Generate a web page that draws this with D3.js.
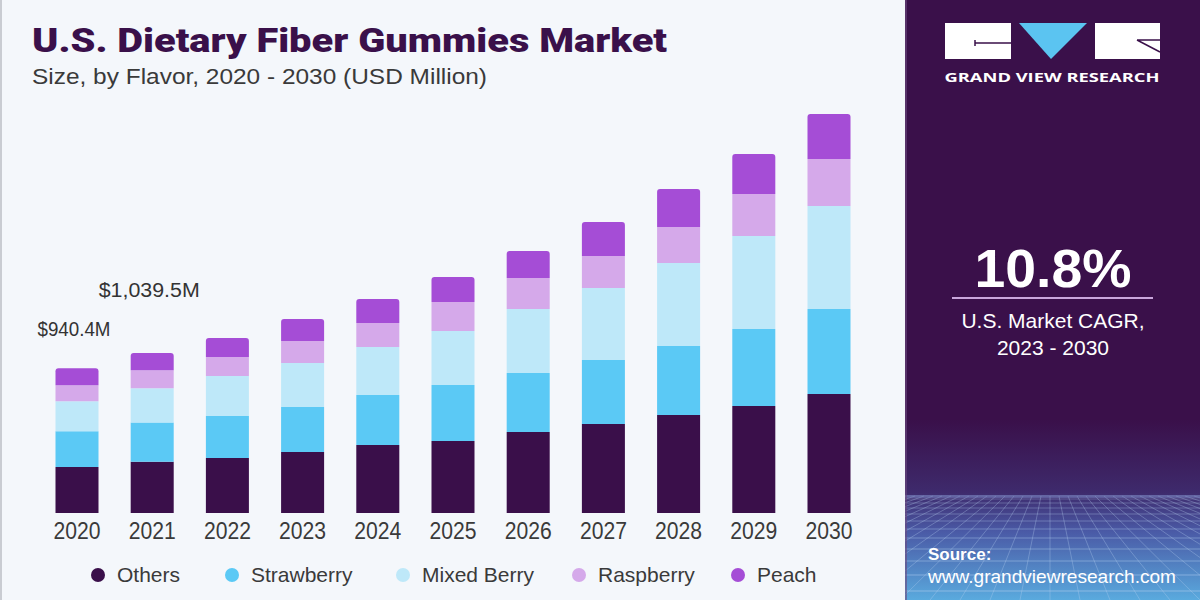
<!DOCTYPE html>
<html>
<head>
<meta charset="utf-8">
<script src="https://cdn.jsdelivr.net/npm/d3@7"></script>
<style>
  body { margin: 0; background: #f4f7fb; }
  svg { display: block; }
</style>
</head>
<body>
<div class="chart"></div>
<script>
// chart data (USD million)
var years = ["2020", "2021", "2022", "2023", "2024", "2025", "2026", "2027", "2028", "2029", "2030"];
var flavors = ["Others", "Strawberry", "Mixed Berry", "Raspberry", "Peach"];
var others = [298.5, 333.5, 357.5, 396.5, 442, 468, 526.5, 578.5, 637, 695.5, 773.5];
var strawberry = [233.6, 255, 273, 292.5, 325, 364, 383.5, 416, 448.5, 500.5, 552.5];
var mixedBerry = [195.0, 222.5, 260, 286, 312, 351, 416, 468, 539.5, 604.5, 669.5];
var raspberry = [103.9, 117.5, 123.5, 143, 156, 188.5, 201.5, 208, 234, 273, 305.5];
var peach = [109.4, 111, 123.5, 143, 156, 162.5, 175.5, 221, 247, 260, 292.5];
var labelYears = ["2020", "2021"];
var labelTexts = ["$940.4M", "$1,039.5M"];
var cagr = "10.8%";

var colors = ["#3a0f4a", "#5bc9f5", "#bee8f9", "#d5a9ea", "#a54dd6"];

// declaring sizes
var svgx = 1200;
var svgy = 600;
var panelx = 905;
var baseline = 513;

var svg = d3.select(".chart")
    .append("svg")
    .attr("width", svgx)
    .attr("height", svgy);

// backgrounds
svg.append("rect").attr("width", panelx).attr("height", svgy).attr("fill", "#f4f7fb");
svg.append("rect").attr("width", 2).attr("height", svgy).attr("fill", "#c9ccd2");

var defs = svg.append("defs");
var grad = defs.append("linearGradient")
    .attr("id", "floor").attr("x1", 0).attr("y1", 0).attr("x2", 0).attr("y2", 1);
grad.append("stop").attr("offset", "0%").attr("stop-color", "#3a104a");
grad.append("stop").attr("offset", "40%").attr("stop-color", "#3e2a6c");
grad.append("stop").attr("offset", "62%").attr("stop-color", "#4a5aa6");
grad.append("stop").attr("offset", "100%").attr("stop-color", "#5aaade");
defs.append("clipPath").attr("id", "panelclip")
    .append("rect").attr("x", panelx).attr("y", 0).attr("width", svgx - panelx).attr("height", svgy);

var panel = svg.append("g").attr("clip-path", "url(#panelclip)");
panel.append("rect").attr("x", panelx).attr("width", svgx - panelx).attr("height", svgy).attr("fill", "#3a104a");
panel.append("rect").attr("x", panelx).attr("y", 420).attr("width", svgx - panelx).attr("height", 180).attr("fill", "url(#floor)");

// perspective grid on the floor
var floor = panel.append("g").attr("stroke", "#b9d3f2").attr("stroke-width", 0.8).attr("fill", "none");
var horizon = 496;
var rows = [0, 3, 7, 12, 18, 25, 33, 42, 53, 65, 79, 95, 110];
rows.forEach(function(r) {
    floor.append("line")
        .attr("x1", panelx).attr("x2", svgx)
        .attr("y1", horizon + r).attr("y2", horizon + r)
        .attr("opacity", 0.35 + r / 300);
});
d3.range(-40, 41).forEach(function(k) {
    var vx = 1050;
    floor.append("line")
        .attr("x1", vx + k * 9).attr("y1", horizon)
        .attr("x2", vx + k * 30).attr("y2", svgy)
        .attr("opacity", 0.4);
});
panel.append("rect").attr("x", panelx).attr("y", horizon - 1).attr("width", svgx - panelx).attr("height", 3)
    .attr("fill", "#7a86c4").attr("opacity", 0.5);
svg.append("rect").attr("x", panelx).attr("width", 2).attr("height", svgy).attr("fill", "#6b4a7e").attr("opacity", 0.6);

// title
svg.append("text")
    .attr("x", 32).attr("y", 52)
    .attr("textLength", 635).attr("lengthAdjust", "spacingAndGlyphs")
    .style("font-family", "Roboto, 'Liberation Sans', sans-serif")
    .style("font-weight", 900).style("font-size", "34px")
    .attr("fill", "#3a104a")
    .text("U.S. Dietary Fiber Gummies Market");

svg.append("text")
    .attr("x", 32).attr("y", 84)
    .attr("textLength", 455).attr("lengthAdjust", "spacingAndGlyphs")
    .style("font-family", "'Liberation Sans', sans-serif")
    .style("font-size", "22px")
    .attr("fill", "#3a3a3a")
    .text("Size, by Flavor, 2020 - 2030 (USD Million)");

// scales
var xscale = d3.scaleBand().domain(years).range([39.4, 866.6]).paddingInner(0.428).paddingOuter(0.214);
var yscale = d3.scaleLinear().domain([0, 2600]).range([baseline, 113]);

var table = years.map(function(yr, i) {
    return {year: yr, "Others": others[i], "Strawberry": strawberry[i], "Mixed Berry": mixedBerry[i],
        "Raspberry": raspberry[i], "Peach": peach[i]};
});
var stacked = d3.stack().keys(flavors)(table);

// rounded top corners for the top segment
function topRounded(x, y, w, h, r) {
    return "M" + x + "," + (y + h) + "V" + (y + r) + "Q" + x + "," + y + " " + (x + r) + "," + y +
        "H" + (x + w - r) + "Q" + (x + w) + "," + y + " " + (x + w) + "," + (y + r) + "V" + (y + h) + "Z";
}

var bars = svg.append("g");
stacked.forEach(function(layer, li) {
    bars.append("g")
        .attr("fill", colors[li])
        .selectAll("path")
        .data(layer)
        .enter()
        .append("path")
        .attr("d", function(d) {
            var x0 = xscale(d.data.year);
            var y0 = yscale(d[1]);
            var h = yscale(d[0]) - yscale(d[1]);
            return topRounded(x0, y0, xscale.bandwidth(), h, li === flavors.length - 1 ? 3 : 0);
        });
});

// year axis
var xaxis = d3.axisBottom(xscale).tickSize(0).tickPadding(10);
var gx = svg.append("g")
    .attr("transform", "translate(0," + baseline + ")")
    .call(xaxis);
gx.select(".domain").remove();
gx.selectAll("text")
    .attr("textLength", 47).attr("lengthAdjust", "spacingAndGlyphs")
    .style("font-family", "'Liberation Sans', sans-serif")
    .style("font-size", "23px")
    .attr("fill", "#3a3a3a");

// total labels
var labelOffset = [32, 56];
var labelWidth = [73, 101];
svg.selectAll(".total")
    .data(labelYears)
    .enter()
    .append("text")
    .attr("class", "total")
    .attr("x", function(d) { return xscale(d) + xscale.bandwidth() / 2 - 3; })
    .attr("y", function(d, i) {
        var idx = years.indexOf(d);
        return yscale(d3.sum(flavors, function(f) { return table[idx][f]; })) - labelOffset[i];
    })
    .attr("text-anchor", "middle")
    .attr("textLength", function(d, i) { return labelWidth[i]; })
    .attr("lengthAdjust", "spacingAndGlyphs")
    .style("font-family", "'Liberation Sans', Arial, sans-serif")
    .style("font-size", "20px")
    .attr("fill", "#333")
    .text(function(d, i) { return labelTexts[i]; });

// legend
var legendX = [98, 232, 403, 579, 738];
var legend = svg.append("g").selectAll("g")
    .data(flavors)
    .enter()
    .append("g")
    .attr("transform", function(d, i) { return "translate(" + legendX[i] + ",575)"; });
legend.append("circle").attr("r", 7).attr("fill", function(d, i) { return colors[i]; });
legend.append("text")
    .attr("x", 19).attr("dy", "0.35em")
    .style("font-family", "'Liberation Sans', sans-serif")
    .style("font-size", "21px")
    .attr("fill", "#3a3a3a")
    .text(function(d) { return d; });

// logo
var logo = svg.append("g");
logo.append("rect").attr("x", 945).attr("y", 23).attr("width", 66).attr("height", 36).attr("fill", "#fff");
logo.append("path").attr("d", "M1019,23H1087L1051,59Z").attr("fill", "#5bc4f1");
logo.append("rect").attr("x", 1095).attr("y", 23).attr("width", 65).attr("height", 36).attr("fill", "#fff");
logo.append("path").attr("d", "M975,43H1011M975,40V46").attr("stroke", "#3a104a").attr("stroke-width", 1.5);
logo.append("path").attr("d", "M1137,40L1160,52M1137,40H1160").attr("stroke", "#3a104a").attr("stroke-width", 1.5);
logo.append("text")
    .attr("x", 1052).attr("y", 82)
    .attr("text-anchor", "middle")
    .attr("textLength", 215).attr("lengthAdjust", "spacingAndGlyphs")
    .style("font-family", "'Open Sans', 'DejaVu Sans', sans-serif")
    .style("font-weight", 700).style("font-size", "13px")
    .attr("fill", "#fff")
    .text("GRAND VIEW RESEARCH");

// cagr block
svg.append("text")
    .attr("x", 1053).attr("y", 287)
    .attr("text-anchor", "middle")
    .attr("textLength", 157).attr("lengthAdjust", "spacingAndGlyphs")
    .style("font-family", "'Liberation Sans', Arial, sans-serif")
    .style("font-weight", 700).style("font-size", "54px")
    .attr("fill", "#fff")
    .text(cagr);
svg.append("line")
    .attr("x1", 952).attr("x2", 1153).attr("y1", 298).attr("y2", 298)
    .attr("stroke", "#c9a6dc").attr("stroke-width", 2);
svg.append("text")
    .attr("x", 1053).attr("y", 328)
    .attr("text-anchor", "middle")
    .style("font-family", "'Liberation Sans', Arial, sans-serif")
    .style("font-size", "21px")
    .attr("fill", "#fff")
    .text("U.S. Market CAGR,");
svg.append("text")
    .attr("x", 1053).attr("y", 355)
    .attr("text-anchor", "middle")
    .style("font-family", "'Liberation Sans', Arial, sans-serif")
    .style("font-size", "21px")
    .attr("fill", "#fff")
    .text("2023 - 2030");

// source
svg.append("text")
    .attr("x", 928).attr("y", 560)
    .style("font-family", "'Liberation Sans', Arial, sans-serif")
    .style("font-weight", 700).style("font-size", "17px")
    .attr("fill", "#fff")
    .text("Source:");
svg.append("text")
    .attr("x", 928).attr("y", 583)
    .attr("textLength", 248).attr("lengthAdjust", "spacingAndGlyphs")
    .style("font-family", "'Liberation Sans', Arial, sans-serif")
    .style("font-size", "19px")
    .attr("fill", "#fff")
    .text("www.grandviewresearch.com");
</script>
</body>
</html>
